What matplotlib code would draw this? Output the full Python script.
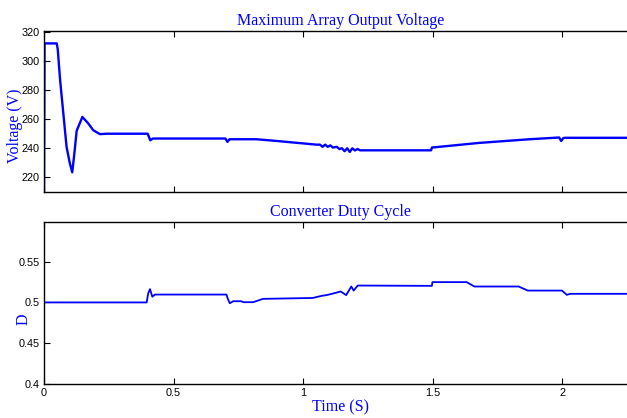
import numpy as np
import matplotlib
matplotlib.use("Agg")
import matplotlib.pyplot as plt

# --- data ---
# array output voltage (V) vs time (s)
t_volt = [0.0, 0.002, 0.049, 0.053, 0.062, 0.087, 0.1, 0.109, 0.118, 0.126,
          0.148, 0.171, 0.19, 0.216, 0.24, 0.40, 0.41, 0.42, 0.70, 0.708,
          0.716, 0.82, 0.90, 0.96, 1.01, 1.05, 1.065, 1.075, 1.085, 1.095,
          1.105, 1.115, 1.13, 1.14, 1.15, 1.16, 1.17, 1.18, 1.19, 1.20,
          1.21, 1.22, 1.494, 1.497, 1.68, 1.873, 1.988, 1.996, 2.004, 2.012,
          2.25]
volt = [205, 312, 312, 308, 287, 241, 229.4, 223.5, 238, 252,
        261.5, 257, 252.4, 249.7, 250, 250, 245.5, 246.7, 246.7, 244.4,
        246.2, 246.2, 245, 244, 243.2, 242.5, 242.5, 241, 242.5, 241,
        242, 240.5, 241, 239.5, 240, 238, 240, 237.5, 240, 238.5,
        239.5, 238.6, 238.6, 240.5, 243.7, 246.2, 247.4, 245, 247, 247.2,
        247.2]

# converter duty cycle vs time (s)
t_duty = [0.0, 0.396, 0.402, 0.409, 0.418, 0.428, 0.704, 0.710, 0.717, 0.73,
          0.76, 0.77, 0.807, 0.845, 1.037, 1.07, 1.09, 1.11, 1.128, 1.145,
          1.166, 1.186, 1.195, 1.211, 1.497, 1.499, 1.631, 1.661, 1.832, 1.867,
          1.999, 2.018, 2.03, 2.25]
duty = [0.5, 0.5, 0.511, 0.5164, 0.507, 0.5097, 0.5097, 0.504, 0.499, 0.5015,
        0.5015, 0.5003, 0.5003, 0.5044, 0.5055, 0.508, 0.509, 0.5105, 0.512, 0.5135,
        0.509, 0.5196, 0.5146, 0.5208, 0.5204, 0.525, 0.525, 0.5196, 0.5196, 0.5146,
        0.5146, 0.5093, 0.5106, 0.5106]

x_ticks = [0, 0.5, 1, 1.5, 2]
x_ticklabels = ["0", "0.5", "1", "1.5", "2"]
v_ticks = [220, 240, 260, 280, 300, 320]
d_ticks = [0.4, 0.45, 0.5, 0.55]
d_ticklabels = ["0.4", "0.45", "0.5", "0.55"]

BLUE = "#0000ff"
serif = ["Liberation Serif", "DejaVu Serif"]
sans = ["Liberation Sans", "DejaVu Sans"]

fig = plt.figure(figsize=(6.27, 4.18), dpi=100)
ax1 = fig.add_axes([0.0702, 0.5407, 0.9298, 0.3851])
ax2 = fig.add_axes([0.0702, 0.0821, 0.9298, 0.3868])


def style(ax):
    ax.spines["right"].set_visible(False)
    for s in ("left", "top", "bottom"):
        ax.spines[s].set_linewidth(1.0)
    ax.tick_params(direction="in", length=4, width=0.8, top=True,
                   right=False, labelsize=7.8, pad=3)
    for lab in ax.get_xticklabels() + ax.get_yticklabels():
        lab.set_family(sans)
    ax.set_xlim(0, 2.25)
    ax.set_xticks(x_ticks)


ax1.plot(t_volt, volt, color=BLUE, lw=1.7)
ax1.set_ylim(210, 320.5)
ax1.set_yticks(v_ticks)
ax1.set_yticklabels([str(v) for v in v_ticks])
style(ax1)
ax1.set_xticklabels([])
ax1.set_title("Maximum Array Output Voltage", color=BLUE, family=serif,
              fontsize=11.5, x=0.508, pad=4)
ax1.set_ylabel("Voltage (V)", color=BLUE, family=serif, fontsize=11.5)
ax1.yaxis.set_label_coords(-0.036, 0.41)

ax2.plot(t_duty, duty, color=BLUE, lw=1.3)
ax2.set_ylim(0.4, 0.599)
ax2.set_yticks(d_ticks)
ax2.set_yticklabels(d_ticklabels)
ax2.set_xticklabels(x_ticklabels)
style(ax2)
ax2.set_title("Converter Duty Cycle", color=BLUE, family=serif,
              fontsize=11.5, x=0.508, pad=4)
ax2.set_ylabel("D", color=BLUE, family=serif, fontsize=11.5)
ax2.yaxis.set_label_coords(-0.021, 0.40)
ax2.set_xlabel("Time (S)", color=BLUE, family=serif, fontsize=11.5,
               labelpad=1)
ax2.xaxis.set_label_coords(0.508, -0.095)

fig.savefig("out.png", dpi=100)
